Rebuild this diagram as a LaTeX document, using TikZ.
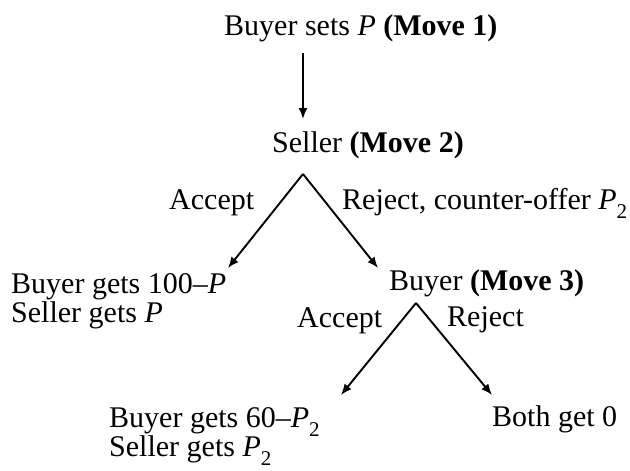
\documentclass[tikz,border=0pt]{standalone}
\usepackage{fontspec}
\setmainfont{Liberation Serif}
\usetikzlibrary{arrows.meta}
\newcommand{\lowsub}[1]{\raisebox{-9pt}{\fontsize{21}{21}\selectfont #1}}
\begin{document}
\begin{tikzpicture}[x=1pt,y=-1pt,
  lbl/.style={anchor=base west,inner sep=0pt,font=\fontsize{30}{28}\selectfont},
  arr/.style={line width=1.9pt,-{Latex[length=11pt,width=9pt]}}]
\useasboundingbox (0,0) rectangle (630,471);
\node[lbl] (m1) at (224,35) {Buyer sets \textit{P} \textbf{(Move 1)}};
\node[lbl] (m2) at (272,152) {Seller \textbf{(Move 2)}};
\node[lbl] (acc1) at (169,209) {Accept};
\node[lbl] (rej1) at (342,209) {Reject, counter-offer \textit{P}\lowsub{2}};
\node[lbl] (out1) at (11,293) {\begin{tabular}[t]{@{}l@{}}Buyer gets 100--\textit{P}\\Seller gets \textit{P}\end{tabular}};
\node[lbl] (m3) at (389,290) {Buyer \textbf{(Move 3)}};
\node[lbl] (acc2) at (297,327) {Accept};
\node[lbl] (rej2) at (447,326) {Reject};
\node[lbl] (out2) at (109,427) {\begin{tabular}[t]{@{}l@{}}Buyer gets 60--\textit{P}\lowsub{2}\\Seller gets \textit{P}\lowsub{2}\end{tabular}};
\node[lbl] (out3) at (492,426) {Both get 0};
\coordinate (s1) at (303,53);
\coordinate (e1) at (303,119);
\coordinate (apex2) at (303,174);
\coordinate (t2l) at (228,268);
\coordinate (t2r) at (378,268);
\coordinate (apex3) at (416,303);
\coordinate (t3l) at (341,395);
\coordinate (t3r) at (492,395);
\draw[arr] (s1) -- (e1);
\draw[arr] (apex2) -- (t2l);
\draw[arr] (apex2) -- (t2r);
\draw[arr] (apex3) -- (t3l);
\draw[arr] (apex3) -- (t3r);
\end{tikzpicture}
\end{document}
